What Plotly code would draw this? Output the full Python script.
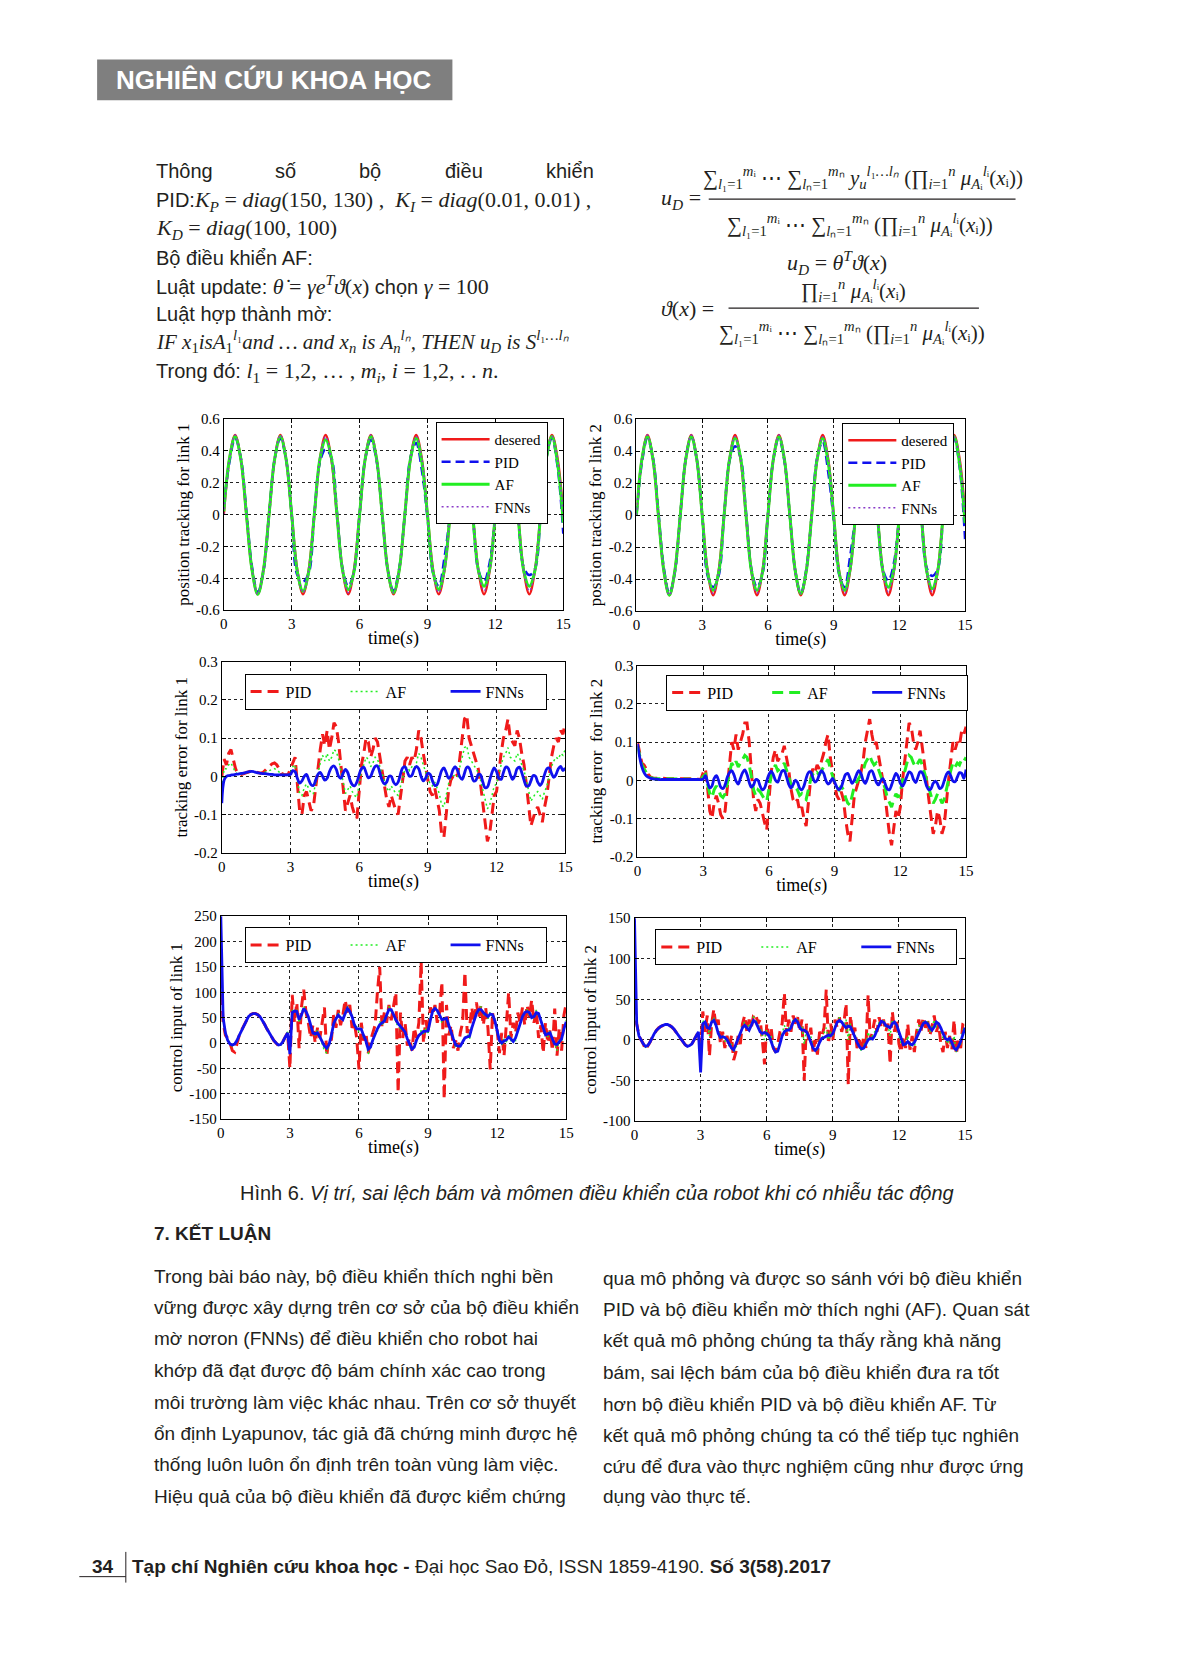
import plotly.graph_objects as go

# ======================= DATA =======================
T_POS = [0, 0.25, 0.5, 0.75, 1, 1.25, 1.5, 1.75,
         2, 2.25, 2.5, 2.75, 3, 3.25, 3.5, 3.75,
         4, 4.25, 4.5, 4.75, 5, 5.25, 5.5, 5.75,
         6, 6.25, 6.5, 6.75, 7, 7.25, 7.5, 7.75,
         8, 8.25, 8.5, 8.75, 9, 9.25, 9.5, 9.75,
         10, 10.25, 10.5, 10.75, 11, 11.25, 11.5, 11.75,
         12, 12.25, 12.5, 12.75, 13, 13.25, 13.5, 13.75,
         14, 14.25, 14.5, 14.75, 15]

POS_DESIRED = [0.0, 0.35, 0.5, 0.35, 0.0, -0.35, -0.5, -0.35,
               0.0, 0.35, 0.5, 0.35, 0.0, -0.35, -0.5, -0.35,
               0.0, 0.35, 0.5, 0.35, 0.0, -0.35, -0.5, -0.35,
               0.0, 0.35, 0.5, 0.35, 0.0, -0.35, -0.5, -0.35,
               0.0, 0.35, 0.5, 0.35, 0.0, -0.35, -0.5, -0.35,
               0.0, 0.35, 0.5, 0.35, 0.0, -0.35, -0.5, -0.35,
               0.0, 0.35, 0.5, 0.35, 0.0, -0.35, -0.5, -0.35,
               0.0, 0.35, 0.5, 0.35, 0.0]
POS1_PID = [0.05, 0.33, 0.48, 0.36, 0.02, -0.33, -0.49, -0.36,
            0.0, 0.35, 0.48, 0.35, 0.0, -0.38, -0.42, -0.37,
            0.0, 0.33, 0.41, 0.36, 0.02, -0.34, -0.45, -0.36,
            0.0, 0.35, 0.47, 0.34, 0.0, -0.35, -0.48, -0.34,
            0.0, 0.36, 0.45, 0.28, -0.02, -0.37, -0.45, -0.27,
            0.0, 0.35, 0.48, 0.35, 0.0, -0.35, -0.42, -0.3,
            0.0, 0.35, 0.48, 0.35, 0.0, -0.33, -0.38, -0.34,
            0.0, 0.35, 0.48, 0.3, -0.12]
POS1_AF = [0.02, 0.35, 0.49, 0.35, 0.0, -0.35, -0.5, -0.35,
           0.0, 0.35, 0.49, 0.35, 0.0, -0.36, -0.48, -0.36,
           0.0, 0.35, 0.47, 0.36, 0.0, -0.35, -0.47, -0.36,
           0.0, 0.35, 0.49, 0.35, 0.0, -0.35, -0.49, -0.35,
           0.0, 0.35, 0.48, 0.33, 0.0, -0.36, -0.47, -0.34,
           0.0, 0.35, 0.49, 0.35, 0.0, -0.35, -0.45, -0.34,
           0.0, 0.35, 0.49, 0.35, 0.0, -0.35, -0.45, -0.35,
           0.0, 0.35, 0.49, 0.32, -0.05]
POS1_FNN = [0.0, 0.35, 0.5, 0.35, 0.0, -0.35, -0.5, -0.35,
            0.0, 0.35, 0.5, 0.35, 0.0, -0.35, -0.49, -0.35,
            0.0, 0.35, 0.49, 0.35, 0.0, -0.35, -0.49, -0.35,
            0.0, 0.35, 0.5, 0.35, 0.0, -0.35, -0.49, -0.35,
            0.0, 0.35, 0.49, 0.35, 0.0, -0.35, -0.49, -0.35,
            0.0, 0.35, 0.49, 0.35, 0.0, -0.35, -0.48, -0.35,
            0.0, 0.35, 0.49, 0.35, 0.0, -0.35, -0.48, -0.35,
            0.0, 0.35, 0.49, 0.34, -0.02]
POS2_PID = [0.0, 0.33, 0.48, 0.36, 0.02, -0.33, -0.49, -0.36,
            0.0, 0.35, 0.49, 0.35, 0.0, -0.38, -0.45, -0.38,
            0.0, 0.34, 0.43, 0.36, 0.02, -0.34, -0.45, -0.37,
            0.0, 0.35, 0.48, 0.34, 0.0, -0.35, -0.49, -0.34,
            0.0, 0.36, 0.46, 0.27, -0.03, -0.37, -0.45, -0.26,
            0.0, 0.35, 0.48, 0.35, 0.0, -0.34, -0.41, -0.3,
            0.0, 0.35, 0.48, 0.35, 0.0, -0.33, -0.38, -0.34,
            0.0, 0.35, 0.48, 0.3, -0.15]
POS2_AF = [0.0, 0.35, 0.49, 0.35, 0.0, -0.35, -0.5, -0.35,
           0.0, 0.35, 0.49, 0.35, 0.0, -0.36, -0.47, -0.36,
           0.0, 0.35, 0.48, 0.36, 0.0, -0.35, -0.47, -0.36,
           0.0, 0.35, 0.49, 0.35, 0.0, -0.35, -0.49, -0.35,
           0.0, 0.35, 0.48, 0.33, 0.0, -0.36, -0.47, -0.34,
           0.0, 0.35, 0.49, 0.35, 0.0, -0.35, -0.45, -0.34,
           0.0, 0.35, 0.49, 0.35, 0.0, -0.35, -0.46, -0.35,
           0.0, 0.35, 0.49, 0.32, -0.05]
POS2_FNN = [0.0, 0.35, 0.5, 0.35, 0.0, -0.35, -0.5, -0.35,
            0.0, 0.35, 0.5, 0.35, 0.0, -0.35, -0.49, -0.35,
            0.0, 0.35, 0.49, 0.35, 0.0, -0.35, -0.49, -0.35,
            0.0, 0.35, 0.5, 0.35, 0.0, -0.35, -0.49, -0.35,
            0.0, 0.35, 0.49, 0.35, 0.0, -0.35, -0.49, -0.35,
            0.0, 0.35, 0.49, 0.35, 0.0, -0.35, -0.48, -0.35,
            0.0, 0.35, 0.49, 0.35, 0.0, -0.35, -0.48, -0.35,
            0.0, 0.35, 0.49, 0.34, -0.02]

T_E = [0.0, 0.1, 0.2, 0.3, 0.4, 0.5, 0.6, 0.7, 0.8, 0.9,
       1.0, 1.1, 1.2, 1.3, 1.4, 1.5, 1.6, 1.7, 1.8, 1.9,
       2.0, 2.1, 2.2, 2.3, 2.4, 2.5, 2.6, 2.7, 2.8, 2.9,
       3.0, 3.1, 3.2, 3.3, 3.4, 3.5, 3.6, 3.7, 3.8, 3.9,
       4.0, 4.1, 4.2, 4.3, 4.4, 4.5, 4.6, 4.7, 4.8, 4.9,
       5.0, 5.1, 5.2, 5.3, 5.4, 5.5, 5.6, 5.7, 5.8, 5.9,
       6.0, 6.1, 6.2, 6.3, 6.4, 6.5, 6.6, 6.7, 6.8, 6.9,
       7.0, 7.1, 7.2, 7.3, 7.4, 7.5, 7.6, 7.7, 7.8, 7.9,
       8.0, 8.1, 8.2, 8.3, 8.4, 8.5, 8.6, 8.7, 8.8, 8.9,
       9.0, 9.1, 9.2, 9.3, 9.4, 9.5, 9.6, 9.7, 9.8, 9.9,
       10.0, 10.1, 10.2, 10.3, 10.4, 10.5, 10.6, 10.7, 10.8, 10.9,
       11.0, 11.1, 11.2, 11.3, 11.4, 11.5, 11.6, 11.7, 11.8, 11.9,
       12.0, 12.1, 12.2, 12.3, 12.4, 12.5, 12.6, 12.7, 12.8, 12.9,
       13.0, 13.1, 13.2, 13.3, 13.4, 13.5, 13.6, 13.7, 13.8, 13.9,
       14.0, 14.1, 14.2, 14.3, 14.4, 14.5, 14.6, 14.7, 14.8, 14.9,
       15.0]

ERR1_PID = [0.0, 0.045, 0.03, 0.06, 0.07, 0.04, 0.02, 0.005, 0.004, 0.006,
            0.008, 0.01, 0.013, 0.014, 0.012, 0.01, 0.008, 0.008, 0.01, 0.015,
            0.022, 0.028, 0.033, 0.035, 0.03, 0.02, 0.008, 0.005, 0.004, 0.005,
            0.02, 0.04, 0.05, -0.02, -0.09, -0.1, -0.05, -0.04, -0.07, -0.09,
            -0.08, -0.03, 0.03, 0.07, 0.11, 0.08, 0.12, 0.07, 0.1, 0.14,
            0.13, 0.09, 0.03, -0.03, -0.09, -0.07, -0.05, -0.08, -0.1, -0.11,
            -0.04, 0.03, 0.06, 0.1, 0.09, 0.05, 0.07, 0.1, 0.09, 0.05,
            0.02, -0.02, -0.06, -0.08, -0.05, -0.07, -0.09, -0.1, -0.06, -0.01,
            0.04, 0.05, 0.03, 0.05, 0.04, 0.07, 0.12, 0.1, 0.06, 0.02,
            -0.01, -0.04, -0.05, -0.03, -0.06, -0.09, -0.15, -0.16, -0.1, -0.04,
            -0.01, 0.0, 0.01, 0.0, 0.05, 0.1, 0.15, 0.16, 0.1, 0.08,
            0.06, 0.04, 0.02, -0.02, -0.07, -0.12, -0.17, -0.15, -0.1, -0.05,
            -0.04, 0.02, 0.06, 0.1, 0.12, 0.15, 0.1, 0.09, 0.08, 0.12,
            0.1, 0.06, 0.03, -0.02, -0.07, -0.13, -0.11, -0.09, -0.08, -0.1,
            -0.12, -0.08, -0.05, 0.0, 0.05, 0.08, 0.1, 0.09, 0.12, 0.11,
            0.14]
ERR1_AF = [-0.03, 0.02, 0.02, 0.03, 0.035, 0.02, 0.01, 0.005, 0.005, 0.006,
           0.008, 0.01, 0.012, 0.013, 0.012, 0.01, 0.008, 0.008, 0.009, 0.011,
           0.012, 0.015, 0.018, 0.02, 0.017, 0.012, 0.006, 0.005, 0.004, 0.005,
           0.01, 0.025, 0.03, -0.01, -0.045, -0.05, -0.03, -0.02, -0.035, -0.045,
           -0.045, -0.015, 0.015, 0.035, 0.055, 0.04, 0.06, 0.04, 0.05, 0.07,
           0.065, 0.045, 0.015, -0.015, -0.045, -0.035, -0.025, -0.04, -0.05, -0.055,
           -0.02, 0.015, 0.03, 0.05, 0.045, 0.025, 0.035, 0.05, 0.045, 0.025,
           0.01, -0.01, -0.03, -0.04, -0.025, -0.035, -0.045, -0.05, -0.03, -0.005,
           0.02, 0.025, 0.015, 0.025, 0.02, 0.035, 0.06, 0.05, 0.03, 0.01,
           -0.005, -0.02, -0.025, -0.015, -0.03, -0.045, -0.075, -0.08, -0.05, -0.02,
           -0.005, 0.0, 0.005, 0.0, 0.025, 0.05, 0.075, 0.08, 0.05, 0.04,
           0.03, 0.02, 0.01, -0.01, -0.035, -0.06, -0.085, -0.075, -0.05, -0.025,
           -0.02, 0.01, 0.03, 0.05, 0.06, 0.075, 0.05, 0.045, 0.04, 0.06,
           0.05, 0.03, 0.015, -0.01, -0.035, -0.065, -0.055, -0.045, -0.04, -0.05,
           -0.06, -0.04, -0.025, 0.0, 0.025, 0.04, 0.05, 0.045, 0.06, 0.055,
           0.07]
ERR1_FNN = [-0.07, -0.01, 0.0, 0.002, 0.003, 0.004, 0.005, 0.006, 0.007, 0.008,
            0.009, 0.011, 0.012, 0.013, 0.012, 0.01, 0.009, 0.008, 0.007, 0.007,
            0.006, 0.005, 0.005, 0.004, 0.004, 0.004, 0.004, 0.004, 0.004, 0.004,
            0.005, 0.015, 0.012, -0.005, -0.018, -0.012, 0.0, 0.005, -0.01, -0.022,
            -0.024, -0.01, 0.005, 0.01, 0.0, -0.01, -0.005, 0.012, 0.024, 0.027,
            0.018, 0.0, -0.005, 0.008, 0.018, 0.01, -0.01, -0.022, -0.025, -0.015,
            0.005, 0.02, 0.024, 0.01, -0.004, 0.0, 0.015, 0.026, 0.027, 0.01,
            -0.01, -0.02, -0.015, 0.0, 0.0, -0.015, -0.022, -0.015, 0.005, 0.022,
            0.025, 0.012, 0.0, 0.002, 0.018, 0.026, 0.02, 0.0, -0.012, -0.005,
            0.008, 0.005, -0.012, -0.024, -0.022, -0.005, 0.015, 0.022, 0.01, -0.005,
            0.0, 0.018, 0.025, 0.015, -0.002, -0.008, 0.008, 0.024, 0.022, 0.005,
            -0.012, -0.01, 0.005, 0.004, -0.015, -0.03, -0.028, -0.01, 0.01, 0.022,
            0.012, -0.005, -0.008, 0.01, 0.024, 0.022, 0.005, -0.008, 0.002, 0.02,
            0.024, 0.01, -0.01, -0.025, -0.025, -0.012, 0.002, 0.0, -0.015, -0.024,
            -0.015, 0.005, 0.02, 0.022, 0.008, -0.003, 0.005, 0.02, 0.026, 0.015,
            0.022]

ERR2_PID = [0.1, 0.07, 0.045, 0.04, 0.03, 0.015, 0.008, 0.006, 0.005, 0.005,
            0.006, 0.005, 0.004, 0.004, 0.004, 0.004, 0.004, 0.004, 0.004, 0.004,
            0.004, 0.005, 0.005, 0.005, 0.004, 0.003, 0.003, 0.003, 0.003, 0.003,
            0.02, 0.03, -0.02, -0.08, -0.1, -0.06, -0.04, -0.06, -0.09, -0.1,
            -0.08, -0.02, 0.05, 0.1, 0.08, 0.12, 0.08, 0.1, 0.12, 0.15,
            0.15, 0.1, 0.03, -0.05, -0.08, -0.05, -0.06, -0.09, -0.11, -0.13,
            -0.05, 0.02, 0.06, 0.08, 0.05, 0.06, 0.07, 0.09, 0.06, 0.03,
            -0.02, -0.05, -0.06, -0.05, -0.08, -0.07, -0.1, -0.12, -0.06, 0.0,
            0.03, 0.02, 0.04, 0.03, 0.05, 0.07, 0.1, 0.12, 0.06, 0.02,
            -0.01, -0.04, -0.05, -0.03, -0.05, -0.1, -0.14, -0.16, -0.1, -0.04,
            -0.02, 0.0, 0.02, 0.05, 0.1, 0.13, 0.16, 0.12, 0.09, 0.1,
            0.07, 0.03, 0.0, -0.04, -0.1, -0.14, -0.17, -0.12, -0.08, -0.1,
            -0.07, 0.0, 0.05, 0.1, 0.15, 0.14, 0.1, 0.08, 0.1, 0.13,
            0.09, 0.05, 0.0, -0.05, -0.1, -0.14, -0.12, -0.08, -0.1, -0.14,
            -0.12, -0.05, 0.0, 0.05, 0.1, 0.08, 0.1, 0.09, 0.13, 0.12,
            0.14]
ERR2_AF = [0.09, 0.065, 0.04, 0.03, 0.02, 0.012, 0.007, 0.005, 0.004, 0.004,
           0.004, 0.004, 0.003, 0.003, 0.003, 0.003, 0.003, 0.003, 0.003, 0.003,
           0.003, 0.003, 0.003, 0.003, 0.003, 0.002, 0.002, 0.002, 0.002, 0.002,
           0.01, 0.015, -0.01, -0.035, -0.045, -0.025, -0.015, -0.025, -0.04, -0.045,
           -0.035, -0.005, 0.025, 0.045, 0.035, 0.05, 0.035, 0.045, 0.055, 0.065,
           0.06, 0.04, 0.01, -0.025, -0.04, -0.025, -0.03, -0.04, -0.05, -0.055,
           -0.02, 0.01, 0.03, 0.04, 0.025, 0.03, 0.035, 0.045, 0.03, 0.01,
           -0.01, -0.025, -0.03, -0.025, -0.04, -0.035, -0.045, -0.05, -0.025, 0.0,
           0.015, 0.01, 0.02, 0.015, 0.025, 0.035, 0.045, 0.055, 0.03, 0.01,
           -0.005, -0.02, -0.025, -0.015, -0.025, -0.045, -0.06, -0.065, -0.04, -0.015,
           -0.005, 0.005, 0.015, 0.025, 0.045, 0.055, 0.065, 0.05, 0.04, 0.045,
           0.03, 0.01, 0.0, -0.02, -0.045, -0.06, -0.07, -0.05, -0.035, -0.045,
           -0.03, 0.0, 0.025, 0.045, 0.065, 0.06, 0.045, 0.035, 0.045, 0.055,
           0.04, 0.02, 0.0, -0.025, -0.045, -0.06, -0.05, -0.035, -0.045, -0.06,
           -0.05, -0.02, 0.0, 0.025, 0.045, 0.035, 0.045, 0.04, 0.055, 0.05,
           0.06]
ERR2_FNN = [0.095, 0.06, 0.035, 0.02, 0.012, 0.008, 0.005, 0.004, 0.003, 0.003,
            0.002, 0.002, 0.002, 0.002, 0.002, 0.002, 0.002, 0.002, 0.002, 0.002,
            0.002, 0.002, 0.002, 0.002, 0.002, 0.002, 0.002, 0.002, 0.002, 0.002,
            0.003, 0.012, -0.005, -0.02, -0.015, 0.005, 0.012, 0.0, -0.018, -0.022,
            -0.012, 0.008, 0.02, 0.025, 0.015, -0.002, -0.01, 0.005, 0.02, 0.027,
            0.015, -0.005, -0.018, -0.012, 0.002, 0.0, -0.015, -0.025, -0.02, -0.002,
            0.015, 0.024, 0.015, 0.0, -0.005, 0.01, 0.024, 0.025, 0.01, -0.01,
            -0.02, -0.012, 0.0, -0.005, -0.02, -0.025, -0.015, 0.005, 0.02, 0.022,
            0.008, -0.005, 0.0, 0.015, 0.025, 0.018, 0.0, -0.01, -0.005, 0.005,
            -0.005, -0.018, -0.025, -0.018, 0.0, 0.015, 0.018, 0.005, -0.008, 0.0,
            0.015, 0.025, 0.018, 0.0, -0.008, 0.005, 0.022, 0.025, 0.012, -0.005,
            -0.012, -0.002, 0.004, -0.008, -0.022, -0.025, -0.012, 0.005, 0.018, 0.01,
            -0.008, -0.015, -0.005, 0.01, 0.022, 0.018, 0.002, -0.006, 0.008, 0.022,
            0.02, 0.005, -0.015, -0.025, -0.022, -0.008, -0.002, -0.01, -0.022, -0.018,
            -0.002, 0.015, 0.022, 0.012, -0.002, -0.004, 0.008, 0.02, 0.018, 0.005,
            0.028]

CTL1_PID = [130, 40, 15, 10, 0, -15, -18, 0, 15, 25,
            35, 45, 52, 56, 58, 58, 56, 52, 45, 37,
            28, 20, 12, 5, 0, -5, -3, 3, 12, 20,
            -50, 95, 40, 80, -10, 70, 105, 60, 40, 10,
            35, 0, 30, 10, 40, 70, -25, 10, 5, 55,
            30, 65, 35, 55, 85, 60, 75, 30, 40, 10,
            -52, 40, 5, 20, -20, 5, 20, 35, 100, 150,
            30, 60, 40, 75, 45, 70, 100, -98, 60, 10,
            40, -5, 10, -15, 30, 10, 40, 160, 0, 45,
            20, 70, 55, 75, 40, 60, 120, -111, 75, 15,
            35, -10, 5, -15, 20, 40, 140, 20, 30, 70,
            40, 80, 50, 75, 35, 70, 30, -52, 60, 30,
            25, -20, 20, -25, 30, 100, 10, 40, 20, 60,
            40, 70, 35, 75, 50, 85, 40, 65, 10, 35,
            -20, 40, 0, 25, -15, 68, -25, 30, -15, 55,
            78]
CTL1_AF = [200, 45, 18, 6, -2, -6, -4, 4, 14, 24,
           35, 45, 52, 56, 58, 58, 56, 52, 45, 37,
           28, 20, 12, 5, 0, -5, -4, 3, 12, 22,
           -15, 65, 60, 68, 40, 58, 72, 60, 50, 30,
           22, 15, 25, 10, 0, -15, -20, 0, 12, 42,
           45, 60, 48, 50, 62, 72, 60, 55, 30, 32,
           22, 30, 10, 8, -22, -5, 2, 22, 24, 42,
           35, 48, 50, 72, 62, 60, 40, 35, 28, 30,
           18, 10, -8, -15, -5, 8, 12, 25, 18, 28,
           20, 50, 60, 72, 60, 58, 40, 52, 45, 38,
           15, 12, -10, -2, -10, 5, 6, 18, 8, 35,
           42, 62, 62, 72, 55, 60, 48, 62, 50, 48,
           20, 10, -5, 8, 2, 18, 5, 8, 5, 30,
           35, 55, 58, 66, 55, 52, 48, 65, 52, 48,
           28, 20, 12, 25, 2, 0, -15, 5, 2, 32,
           45]
CTL1_FNN = [250, 50, 20, 5, -2, -4, -2, 5, 15, 25,
            35, 45, 52, 56, 58, 58, 56, 52, 45, 37,
            28, 20, 12, 5, 0, -4, -3, 3, 12, 20,
            -22, 60, 63, 62, 46, 55, 68, 62, 52, 35,
            20, 18, 20, 12, 2, -6, -10, -3, 15, 38,
            48, 55, 50, 46, 58, 68, 62, 52, 36, 28,
            28, 27, 15, 4, -12, -8, 6, 18, 28, 36,
            40, 43, 55, 66, 66, 55, 46, 38, 32, 28,
            22, 8, -3, -12, -8, 6, 15, 20, 23, 23,
            24, 45, 63, 68, 64, 55, 46, 47, 49, 35,
            20, 8, -4, -6, -6, 2, 10, 12, 13, 30,
            46, 58, 66, 66, 60, 56, 52, 57, 56, 44,
            25, 5, 0, 4, 6, 12, 8, 3, 10, 25,
            38, 52, 60, 62, 60, 50, 52, 60, 58, 45,
            33, 16, 18, 20, 8, -2, -3, 2, 8, 28,
            42]

CTL2_PID = [45, 20, 5, 0, -5, -12, -8, -3, 3, 8,
            12, 15, 17, 18, 19, 19, 18, 16, 13, 9,
            5, 1, -3, -6, -8, -7, -5, 0, 5, 10,
            -15, 35, 10, 30, -20, 20, 38, 15, 25, -5,
            10, -10, 5, -10, 5, -25, -15, 5, -5, 20,
            30, 10, 25, 15, 30, 32, 20, 25, 0, -30,
            20, 5, 15, -10, -15, -5, 10, 20, 58, 5,
            25, 10, 30, 20, 28, 10, 25, -50, 20, 0,
            15, -15, 0, -18, 10, 5, 15, 62, -5, 20,
            0, 25, 15, 28, 10, 20, 45, -55, 30, 5,
            15, -10, 0, -15, 5, -10, 55, 0, 10, 25,
            10, 28, 15, 25, 10, 20, -30, 35, 10, 25,
            -5, -15, 5, -10, 20, -12, 5, -15, 10, 25,
            10, 28, 15, 25, 5, 20, 30, 10, 20, -5,
            -15, 10, -10, 5, -12, 25, -18, 0, -10, 20,
            25]
CTL2_AF = [100, 18, 5, 0, -5, -9, -7, -3, 3, 8,
           12, 15, 17, 18, 19, 19, 18, 16, 13, 9,
           5, 1, -3, -6, -8, -7, -5, 0, 5, 10,
           -20, 25, 18, 20, 5, 22, 28, 18, 12, 0,
           6, -2, 2, -8, -5, -15, -10, 0, 5, 18,
           22, 15, 18, 20, 28, 25, 18, 15, 5, 0,
           12, 5, 5, -8, -15, -12, -2, 8, 18, 10,
           15, 15, 25, 25, 25, 15, 18, -5, 12, 5,
           5, -10, -12, -12, 0, 2, 8, 15, 0, 10,
           5, 18, 22, 28, 20, 20, 25, 0, 20, 10,
           8, -5, -8, -14, -5, -8, 10, 0, 5, 10,
           12, 22, 20, 25, 15, 18, 5, 25, 18, 20,
           5, -5, -5, -8, 5, -8, -3, -8, 5, 18,
           15, 22, 20, 22, 10, 15, 25, 15, 20, 10,
           2, 5, -5, 2, -8, 5, -15, -5, -5, 12,
           18]
CTL2_FNN = [150, 20, 5, 0, -5, -8, -7, -3, 3, 8,
            12, 15, 17, 18, 19, 19, 18, 16, 13, 9,
            5, 1, -3, -6, -8, -7, -5, 0, 5, 10,
            -40, 20, 22, 15, 14, 22, 24, 18, 8, 3,
            4, 3, 0, -6, -10, -12, -5, 0, 8, 15,
            18, 15, 12, 18, 24, 22, 15, 10, 8, 9,
            8, 5, -2, -10, -15, -14, -5, 5, 10, 12,
            12, 15, 22, 25, 22, 15, 12, 12, 10, 5,
            -3, -10, -13, -10, -3, 2, 3, 5, 6, 5,
            8, 15, 22, 24, 22, 18, 15, 17, 16, 10,
            3, -3, -8, -11, -10, -4, 0, 2, 1, 5,
            12, 18, 23, 22, 18, 16, 15, 20, 22, 18,
            10, 0, -6, -5, -2, -5, -6, -3, 3, 10,
            15, 20, 22, 20, 15, 12, 16, 22, 20, 15,
            8, 2, 0, 2, -3, -10, -12, -8, -2, 8,
            15]

X_TICKS = [0, 3, 6, 9, 12, 15]
X_LABELS = ["0", "3", "6", "9", "12", "15"]
Y_POS_TICKS = [-0.6, -0.4, -0.2, 0, 0.2, 0.4, 0.6]
Y_POS_LABELS = ["-0.6", "-0.4", "-0.2", "0", "0.2", "0.4", "0.6"]
Y_ERR_TICKS = [-0.2, -0.1, 0, 0.1, 0.2, 0.3]
Y_ERR_LABELS = ["-0.2", "-0.1", "0", "0.1", "0.2", "0.3"]
Y_CTL1_TICKS = [-150, -100, -50, 0, 50, 100, 150, 200, 250]
Y_CTL1_LABELS = ["-150", "-100", "-50", "0", "50", "100", "150", "200", "250"]
Y_CTL2_TICKS = [-100, -50, 0, 50, 100, 150]
Y_CTL2_LABELS = ["-100", "-50", "0", "50", "100", "150"]

# ======================= LAYOUT HELPERS =======================
# The page body keeps the browser's default 8px margin, so the figure is made
# 16px smaller than the window and every page coordinate is shifted by 8px.
PAGE_W, PAGE_H = 1179, 1659
OFF = 8
W, H = PAGE_W - 2 * OFF, PAGE_H - 2 * OFF
def px(x):
    return (x - OFF) / W
def py(y):
    return 1 - (y - OFF) / H

SANS = "Liberation Sans, Arial, sans-serif"
NARROW = "Liberation Sans Narrow, Arial Narrow, Liberation Sans, sans-serif"
SERIF = "Liberation Serif, Times New Roman, serif"
TXT = "#231f20"

RED = "#f01a1a"
BLUE = "#1010ee"
GREEN = "#22ee22"
PURPLE = "#8a3cc8"

fig = go.Figure()

PANELS = [
    (222, 415, 565, 608),
    (639, 415, 971, 609),
    (220, 660, 567, 853),
    (640, 664, 972, 857),
    (219, 917, 568, 1122),
    (637, 919, 971, 1124),
]
LEG_POS = [(436, 418), (847, 419), (243, 672), (669, 673), (243, 928), (658, 930)]

def ax_name(i):
    return "" if i == 1 else str(i)

def add(i, x, y, name, color, width, dash="solid", shape="linear"):
    fig.add_trace(go.Scatter(
        x=x, y=y, mode="lines", name=name,
        line=dict(color=color, width=width, dash=dash, shape=shape),
        xaxis="x" + ax_name(i), yaxis="y" + ax_name(i),
        legend="legend" + ax_name(i), hoverinfo="skip"))

for i, (pid, af, fnn) in ((1, (POS1_PID, POS1_AF, POS1_FNN)), (2, (POS2_PID, POS2_AF, POS2_FNN))):
    add(i, T_POS, POS_DESIRED, "desered", RED, 2.5, "solid", "spline")
    add(i, T_POS, pid, "PID", BLUE, 2.5, "9px,5px", "spline")
    add(i, T_POS, af, "AF", GREEN, 3, "solid", "spline")
    add(i, T_POS, fnn, "FNNs", PURPLE, 1.5, "2px,3px", "spline")

add(3, T_E, ERR1_PID, "PID", RED, 3, "11px,6px")
add(3, T_E, ERR1_AF, "AF", GREEN, 1.5, "2px,3px")
add(3, T_E, ERR1_FNN, "FNNs", BLUE, 2.8, "solid", "spline")
add(4, T_E, ERR2_PID, "PID", RED, 3, "11px,6px")
add(4, T_E, ERR2_AF, "AF", GREEN, 3, "11px,6px")
add(4, T_E, ERR2_FNN, "FNNs", BLUE, 2.8, "solid", "spline")

add(5, T_E, CTL1_PID, "PID", RED, 3, "11px,6px")
add(5, T_E, CTL1_AF, "AF", GREEN, 1.5, "2px,3px")
add(5, T_E, CTL1_FNN, "FNNs", BLUE, 2.8)
add(6, T_E, CTL2_PID, "PID", RED, 3, "11px,6px")
add(6, T_E, CTL2_AF, "AF", GREEN, 1.5, "2px,3px")
add(6, T_E, CTL2_FNN, "FNNs", BLUE, 2.8)

Y_SPECS = [
    ("position tracking for link 1", [-0.6, 0.6], Y_POS_TICKS, Y_POS_LABELS),
    ("position tracking for link 2", [-0.6, 0.6], Y_POS_TICKS, Y_POS_LABELS),
    ("tracking error for link 1", [-0.2, 0.3], Y_ERR_TICKS, Y_ERR_LABELS),
    ("tracking error  for link 2", [-0.2, 0.3], Y_ERR_TICKS, Y_ERR_LABELS),
    ("control input of link 1", [-150, 250], Y_CTL1_TICKS, Y_CTL1_LABELS),
    ("control input of link 2", [-100, 150], Y_CTL2_TICKS, Y_CTL2_LABELS),
]

layout = dict(
    width=W, height=H, autosize=False,
    margin=dict(l=0, r=0, t=0, b=0, pad=0),
    paper_bgcolor="white", plot_bgcolor="white",
    showlegend=True,
)
common = dict(showline=True, linecolor="black", linewidth=1, mirror="ticks",
              ticks="inside", ticklen=4, tickcolor="black",
              showgrid=True, gridcolor="#222", griddash="dot", gridwidth=1,
              zeroline=False, tickfont=dict(family=SERIF, size=15, color="black"))
for i, (l, t, r, b) in enumerate(PANELS, start=1):
    n = ax_name(i)
    ytitle, yrange, ytv, ytt = Y_SPECS[i - 1]
    layout["xaxis" + n] = dict(common, domain=[px(l), px(r)], anchor="y" + n,
                               range=[0, 15], tickvals=X_TICKS, ticktext=X_LABELS,
                               title=dict(text="time(<i>s</i>)", standoff=0,
                                          font=dict(family=SERIF, size=18, color="black")))
    layout["yaxis" + n] = dict(common, domain=[py(b), py(t)], anchor="x" + n,
                               range=yrange, tickvals=ytv, ticktext=ytt,
                               title=dict(text=ytitle, standoff=2,
                                          font=dict(family=SERIF, size=17, color="black")))
    lx, ly = LEG_POS[i - 1]
    leg = dict(x=px(lx), y=py(ly), xanchor="left", yanchor="top",
               bgcolor="white", bordercolor="black", borderwidth=1,
               font=dict(family=SERIF, size=15, color="black"))
    if i <= 2:
        leg.update(orientation="v", itemwidth=48)
    else:
        leg.update(orientation="h", entrywidth=55, entrywidthmode="pixels",
                   font=dict(family=SERIF, size=16, color="black"))
    layout["legend" + n] = leg

fig.update_layout(**layout)

# ======================= PAGE TEXT =======================
ann = []
def txt(x, y, s, size=20, family=SANS, color=TXT, xanchor="left", yanchor="middle"):
    ann.append(dict(x=px(x), y=py(y), xref="paper", yref="paper", text=s,
                    showarrow=False, font=dict(size=size, family=family, color=color),
                    xanchor=xanchor, yanchor=yanchor, borderpad=0))

def m(s, size=22):
    return '<span style="font-family:Liberation Serif;font-size:%dpx">%s</span>' % (size, s)

shapes = []
shapes.append(dict(type="rect", xref="paper", yref="paper", x0=px(94), x1=px(453),
                   y0=py(93), y1=py(52), fillcolor="#7f7f7f", line=dict(width=0)))
txt(112, 73, "<b>NGHIÊN CỨU KHOA HỌC</b>", size=26, color="white")

for wx, w in ((152, "Thông"), (273, "số"), (358, "bộ"), (445, "điều"), (547, "khiển")):
    txt(wx, 165, w)
txt(152, 195, "PID:" + m("<i>K</i><sub><i>P</i></sub> = <i>diag</i>(150, 130) ,  <i>K</i><sub><i>I</i></sub> = <i>diag</i>(0.01, 0.01) ,"))
txt(152, 223, m("<i>K</i><sub><i>D</i></sub> = <i>diag</i>(100, 100)"))
txt(152, 252, "Bộ điều khiển AF:")
txt(152, 280, "Luật update: " + m("<i>θ̇</i> = <i>γe</i><sup><i>T</i></sup><i>ϑ</i>(<i>x</i>)") + " chọn " + m("<i>γ</i> = 100"))
txt(152, 309, "Luật hợp thành mờ:")
txt(152, 337, m("<i>IF x</i><sub>1</sub><i>isA</i><sub>1</sub><sup><i>l</i>₁</sup><i>and … and x</i><sub><i>n</i></sub><i> is A</i><sub><i>n</i></sub><sup><i>lₙ</i></sup><i>, THEN u</i><sub><i>D</i></sub><i> is S</i><sup><i>l</i>₁<i>…lₙ</i></sup>", 21))
txt(152, 367, "Trong đó: " + m("<i>l</i><sub>1</sub> = 1,2, … , <i>m</i><sub><i>i</i></sub>, <i>i</i> = 1,2, . . <i>n</i>."))

SUMS = "∑<sub><i>l</i>₁=1</sub><sup><i>m</i>ᵢ</sup> ⋯ ∑<sub><i>l</i>ₙ=1</sub><sup><i>m</i>ₙ</sup>"
PROD = "(∏<sub><i>i</i>=1</sub><sup><i>n</i></sup> <i>μ</i><sub><i>A</i>ᵢ</sub><sup><i>l</i>ᵢ</sup>(<i>x</i>ᵢ))"
txt(663, 193, "<i>u</i><sub><i>D</i></sub> =", size=22, family=SERIF)
shapes.append(dict(type="line", xref="paper", yref="paper", x0=px(712), x1=px(1022),
                   y0=py(193), y1=py(193), line=dict(color=TXT, width=1.2)))
txt(868, 171, SUMS + " <i>y</i><sub><i>u</i></sub><sup><i>l</i>₁<i>…lₙ</i></sup> " + PROD, size=21, family=SERIF, xanchor="center")
txt(865, 219, SUMS + " " + PROD, size=21, family=SERIF, xanchor="center")
txt(842, 257, "<i>u</i><sub><i>D</i></sub> = <i>θ</i><sup><i>T</i></sup><i>ϑ</i>(<i>x</i>)", size=22, family=SERIF, xanchor="center")
txt(663, 303, "<i>ϑ</i>(<i>x</i>) =", size=22, family=SERIF)
shapes.append(dict(type="line", xref="paper", yref="paper", x0=px(732), x1=px(985),
                   y0=py(303), y1=py(303), line=dict(color=TXT, width=1.2)))
txt(858, 285, "∏<sub><i>i</i>=1</sub><sup><i>n</i></sup> <i>μ</i><sub><i>A</i>ᵢ</sub><sup><i>l</i>ᵢ</sup>(<i>x</i>ᵢ)", size=21, family=SERIF, xanchor="center")
txt(857, 328, SUMS + " " + PROD, size=21, family=SERIF, xanchor="center")

txt(599, 1197, "Hình 6. <i>Vị trí, sai lệch bám và mômen điều khiển của robot khi có nhiễu tác động</i>",
    size=20, family=NARROW, xanchor="center")
txt(150, 1237, "<b>7. KẾT LUẬN</b>", size=19, family=NARROW)

LEFT_COL = [
    "Trong bài báo này, bộ điều khiển thích nghi bền",
    "vững được xây dựng trên cơ sở của bộ điều khiển",
    "mờ nơron (FNNs) để điều khiển cho robot hai",
    "khớp đã đạt được độ bám chính xác cao trong",
    "môi trường làm việc khác nhau. Trên cơ sở thuyết",
    "ổn định Lyapunov, tác giả đã chứng minh được hệ",
    "thống luôn luôn ổn định trên toàn vùng làm việc.",
    "Hiệu quả của bộ điều khiển đã được kiểm chứng",
]
RIGHT_COL = [
    "qua mô phỏng và được so sánh với bộ điều khiển",
    "PID và bộ điều khiển mờ thích nghi (AF). Quan sát",
    "kết quả mô phỏng chúng ta thấy rằng khả năng",
    "bám, sai lệch bám của bộ điều khiển đưa ra tốt",
    "hơn bộ điều khiển PID và bộ điều khiển AF. Từ",
    "kết quả mô phỏng chúng ta có thể tiếp tục nghiên",
    "cứu để đưa vào thực nghiệm cũng như được ứng",
    "dụng vào thực tế.",
]
LEFT_Y = [1281, 1312, 1344, 1376, 1408, 1439, 1471, 1503]
RIGHT_Y = [1283, 1314, 1346, 1378, 1410, 1441, 1473, 1503]
for s, yy in zip(LEFT_COL, LEFT_Y):
    txt(150, yy, s, size=19, family=NARROW)
for s, yy in zip(RIGHT_COL, RIGHT_Y):
    txt(604, yy, s, size=19, family=NARROW)

txt(88, 1574, "<b>34</b>", size=19, family=NARROW)
shapes.append(dict(type="line", xref="paper", yref="paper", x0=px(76), x1=px(123),
                   y0=py(1584), y1=py(1584), line=dict(color=TXT, width=1)))
shapes.append(dict(type="line", xref="paper", yref="paper", x0=px(123), x1=px(123),
                   y0=py(1559), y1=py(1590), line=dict(color=TXT, width=1)))
txt(128, 1574, "<b>Tạp chí Nghiên cứu khoa học -</b> Đại học Sao Đỏ, ISSN 1859-4190. <b>Số 3(58).2017</b>",
    size=19, family=NARROW)

fig.update_layout(annotations=ann, shapes=shapes)

fig.write_html("out.html", config={"displayModeBar": False, "responsive": False})
